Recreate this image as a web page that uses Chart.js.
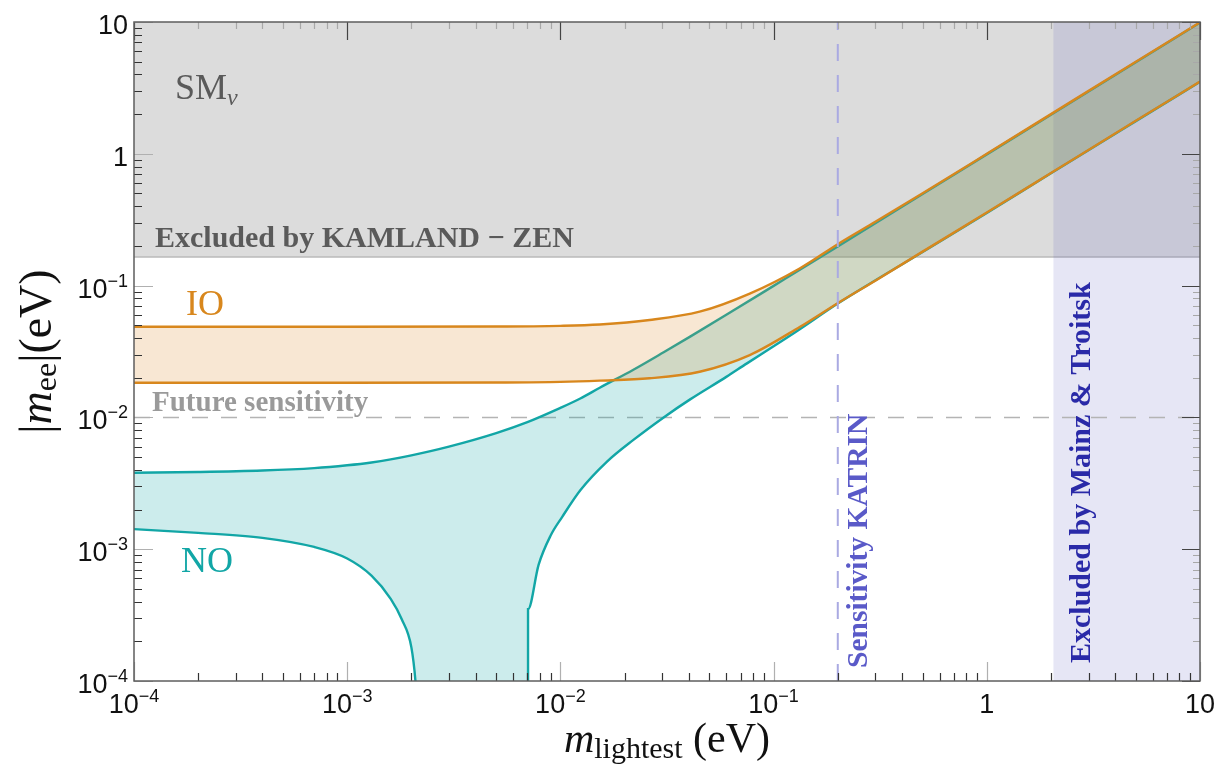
<!DOCTYPE html>
<html>
<head>
<meta charset="utf-8">
<title>|m_ee| versus lightest neutrino mass</title>
<script src="https://cdn.jsdelivr.net/npm/chart.js@4.4.1/dist/chart.umd.min.js"></script>
<style>
  body { margin: 0; background: #fff; }
  canvas { display: block; }
</style>
</head>
<body>
<canvas id="meeChart" width="1220" height="776"></canvas>
<script>
// Normal ordering band, upper edge: lightest mass (eV) and |m_ee| (eV)
const noUpperMass = [1e-4, 2e-4, 4e-4, 7e-4, 1e-3, 1.3e-3, 1.6e-3, 2e-3, 3e-3, 5e-3, 7e-3, 1e-2, 1.24e-2,
  1.53e-2, 2.2e-2, 3.05e-2, 4.06e-2, 6e-2, 0.1, 0.2, 0.5, 1, 2, 5, 10];
const noUpper = [3.80e-3, 3.85e-3, 3.95e-3, 4.12e-3, 4.33e-3, 4.55e-3, 4.8e-3, 5.15e-3, 6.0e-3, 7.6e-3, 9.2e-3,
  1.18e-2, 1.39e-2, 1.68e-2, 2.3e-2, 3.12e-2, 4.1e-2, 6.0e-2, 0.0995, 0.198, 0.495, 0.99, 1.98, 4.95, 9.9];

// Normal ordering band, lower edge (values < 1e-4 sit below the axis where it cancels out)
const noLowerMass = [1e-4, 2e-4, 4e-4, 7e-4, 1e-3, 1.3e-3, 1.6e-3, 1.8e-3, 2.0e-3, 2.09e-3, 2.12e-3, 3e-3, 5e-3,
  7.05e-3, 7.05e-3, 7.9e-3, 9e-3, 1.02e-2, 1.24e-2, 1.65e-2, 2.2e-2, 3.05e-2, 4.06e-2, 6e-2, 7.5e-2, 0.1, 0.13,
  0.2, 0.5, 1, 2, 5, 10];
const noLower = [1.42e-3, 1.33e-3, 1.22e-3, 1.04e-3, 8.5e-4, 6.3e-4, 4.2e-4, 2.95e-4, 1.8e-4, 1.0e-4, 7e-5,
  7e-5, 7e-5, 7e-5, 3.5e-4, 7.6e-4, 1.27e-3, 1.76e-3, 2.8e-3, 4.6e-3, 6.75e-3, 1.0e-2, 1.37e-2, 2.03e-2,
  2.57e-2, 3.46e-2, 4.56e-2, 7.3e-2, 0.18, 0.356, 0.712, 1.77, 3.52];

// Inverted ordering band
const ioMass = [1e-4, 1e-3, 5e-3, 1e-2, 1.53e-2, 2.62e-2, 4.5e-2, 7.73e-2, 0.1325, 0.205, 0.3, 0.5, 1, 2, 5, 10];
const ioUpper = [0.0487, 0.0487, 0.0489, 0.0495, 0.0507, 0.0548, 0.0634, 0.087, 0.135, 0.2116, 0.305, 0.502,
  1.0, 2.0, 5.0, 9.95];
const ioLower = [0.0183, 0.0183, 0.0184, 0.0186, 0.019, 0.0198, 0.0222, 0.0297, 0.0485, 0.0755, 0.109, 0.181,
  0.358, 0.714, 1.78, 3.53];

// Experimental limits (eV)
const kamlandLimit = 0.165;
const futureSensitivity = 0.01;
const katrinSensitivity = 0.2;
const mainzTroitskLimit = 2.05;

// Axis range and labelled powers of ten
const axisMin = 1e-4;
const axisMax = 10;
const xTickPowers = [-4, -3, -2, -1, 0, 1];
const yTickPowers = [-4, -3, -2, -1, 0, 1];

const teal = "#12a6a6";
const orange = "#d8871d";
const serif = "'Liberation Serif', 'Times New Roman', serif";
const sans = "'Liberation Sans', Arial, sans-serif";

const toPoints = (xs, ys) => xs.map((x, i) => ({ x: x, y: ys[i] }));

// all 1..9 x 10^n values inside the axis range, powers of ten flagged as major
function logTickValues() {
  const out = [];
  for (let p = -4; p <= 0; p++) {
    for (let k = 1; k <= 9; k++) out.push({ v: k * Math.pow(10, p), major: k === 1 });
  }
  out.push({ v: 10, major: true });
  return out;
}

// "10" with a raised exponent, as Mathematica prints it
function drawPower(ctx, p, x, baseline, align) {
  const base = p === 0 ? "1" : "10";
  const sup = p === 0 || p === 1 ? "" : "\u2212" + Math.abs(p);
  ctx.font = "27px " + sans;
  const wb = ctx.measureText(base).width;
  ctx.font = "18px " + sans;
  const ws = sup ? ctx.measureText(sup).width : 0;
  const left = align === "right" ? x - wb - ws : x - (wb + ws) / 2;
  ctx.font = "27px " + sans;
  ctx.fillText(base, left, baseline);
  if (sup) {
    ctx.font = "18px " + sans;
    ctx.fillText(sup, left + wb, baseline - 11);
  }
}

// text made of runs with their own font and baseline shift
function drawRuns(ctx, runs, x, baseline, align) {
  let total = 0;
  runs.forEach((r) => { ctx.font = r.font; r.w = ctx.measureText(r.text).width; total += r.w; });
  let cx = align === "center" ? x - total / 2 : x;
  runs.forEach((r) => {
    ctx.font = r.font;
    ctx.fillText(r.text, cx, baseline + (r.dy || 0));
    cx += r.w;
  });
}

const framePlugin = {
  id: "framePlugin",
  afterDraw(chart) {
    const { ctx, chartArea: a, scales } = chart;
    const xs = scales.x;
    const ys = scales.y;
    ctx.save();
    ctx.textAlign = "left";
    ctx.textBaseline = "alphabetic";

    // inward ticks on all four sides
    ctx.lineWidth = 1.2;
    logTickValues().forEach((t) => {
      const px = Math.round(xs.getPixelForValue(t.v)) + 0.5;
      const py = Math.round(ys.getPixelForValue(t.v)) + 0.5;
      const longLen = 19;
      const shortLen = 8;
      // left and bottom: light long majors, dark short minors
      ctx.strokeStyle = t.major ? "#b0b0b0" : "#333";
      const lb = t.major ? longLen : shortLen;
      ctx.beginPath();
      ctx.moveTo(a.left, py); ctx.lineTo(a.left + lb, py);
      ctx.moveTo(px, a.bottom); ctx.lineTo(px, a.bottom - lb);
      ctx.stroke();
      // top and right: dark long majors, light short minors
      ctx.strokeStyle = t.major ? "#444" : "#a8a8a8";
      const lt = t.major ? longLen - 1 : shortLen - 1;
      ctx.beginPath();
      ctx.moveTo(a.right, py); ctx.lineTo(a.right - lt, py);
      ctx.moveTo(px, a.top); ctx.lineTo(px, a.top + lt);
      ctx.stroke();
    });

    // frame
    ctx.strokeStyle = "#5e5e5e";
    ctx.lineWidth = 1.5;
    ctx.strokeRect(a.left, a.top, a.right - a.left, a.bottom - a.top);

    // tick labels
    ctx.fillStyle = "#111";
    yTickPowers.forEach((p) => {
      const py = ys.getPixelForValue(Math.pow(10, p));
      drawPower(ctx, p, a.left - 6, py + 12, "right");
    });
    xTickPowers.forEach((p) => {
      const px = xs.getPixelForValue(Math.pow(10, p));
      drawPower(ctx, p, px, a.bottom + 32, "center");
    });

    // axis titles
    ctx.fillStyle = "#111";
    drawRuns(ctx, [
      { text: "m", font: "italic 42px " + serif },
      { text: "lightest", font: "30px " + serif, dy: 6 },
      { text: " (eV)", font: "42px " + serif },
    ], (a.left + a.right) / 2, 752, "center");

    ctx.save();
    ctx.translate(51, (a.top + a.bottom) / 2);
    ctx.rotate(-Math.PI / 2);
    drawRuns(ctx, [
      { text: "|", font: "46px " + serif },
      { text: "m", font: "italic 46px " + serif },
      { text: "ee", font: "32px " + serif, dy: 5 },
      { text: "|(eV)", font: "46px " + serif },
    ], 0, 0, "center");
    ctx.restore();

    // region annotations
    ctx.fillStyle = "#5a5a5a";
    drawRuns(ctx, [
      { text: "SM", font: "36px " + serif },
      { text: "\u03bd", font: "italic 24px " + serif, dy: 6 },
    ], 175, 99, "left");
    ctx.font = "bold 30px " + serif;
    ctx.fillText("Excluded by KAMLAND \u2212 ZEN", 155, 247);

    ctx.fillStyle = orange;
    ctx.font = "36px " + serif;
    ctx.fillText("IO", 186, 315);
    ctx.fillStyle = teal;
    ctx.fillText("NO", 181, 572);

    ctx.fillStyle = "#9a9a9a";
    ctx.font = "bold 29px " + serif;
    ctx.fillText("Future sensitivity", 152, 411);

    ctx.font = "bold 29.5px " + serif;
    ctx.save();
    ctx.translate(867, 668);
    ctx.rotate(-Math.PI / 2);
    ctx.fillStyle = "#5a5ac8";
    ctx.fillText("Sensitivity KATRIN", 0, 0);
    ctx.restore();

    ctx.font = "bold 30px " + serif;
    ctx.save();
    ctx.translate(1090, 663);
    ctx.rotate(-Math.PI / 2);
    ctx.fillStyle = "#2a2aa8";
    ctx.fillText("Excluded by Mainz & Troitsk", 0, 0);
    ctx.restore();

    ctx.restore();
  },
};

const curve = { borderWidth: 2.4, cubicInterpolationMode: "monotone" };

const datasets = [
  {
    // 0: excluded by KamLAND-Zen, filled up to the top
    data: [{ x: axisMin, y: kamlandLimit }, { x: axisMax, y: kamlandLimit }],
    borderColor: "#bababa", borderWidth: 1.5,
    backgroundColor: "#dcdcdc", fill: "end", order: 10,
  },
  {
    // 1: excluded by Mainz & Troitsk, filled down to the bottom
    data: [{ x: mainzTroitskLimit, y: axisMax }, { x: axisMax, y: axisMax }],
    borderColor: "transparent", borderWidth: 0,
    backgroundColor: "rgba(80, 80, 185, 0.143)", fill: "start", order: 9,
  },
  {
    // 2: future sensitivity
    data: [{ x: axisMin, y: futureSensitivity }, { x: axisMax, y: futureSensitivity }],
    borderColor: "#b4b4b4", borderWidth: 1.5, borderDash: [16, 13], fill: false, order: 8,
  },
  Object.assign({
    // 3: NO upper edge
    data: toPoints(noUpperMass, noUpper),
    borderColor: teal, fill: false, order: 4,
  }, curve),
  Object.assign({
    // 4: NO lower edge, band filled to the upper edge
    data: toPoints(noLowerMass, noLower),
    borderColor: teal, fill: 3,
    backgroundColor: "rgba(0, 160, 160, 0.2)", order: 4,
  }, curve),
  Object.assign({
    // 5: IO upper edge
    data: toPoints(ioMass, ioUpper),
    borderColor: orange, fill: false, order: 3,
  }, curve),
  Object.assign({
    // 6: IO lower edge
    data: toPoints(ioMass, ioLower),
    borderColor: orange, fill: 5,
    backgroundColor: "rgba(221, 136, 34, 0.2)", order: 3,
  }, curve),
  {
    // 7: KATRIN sensitivity
    data: [{ x: katrinSensitivity, y: axisMin }, { x: katrinSensitivity, y: axisMax }],
    borderColor: "#aaaae2", borderWidth: 2, borderDash: [17, 14], fill: false, order: 1,
  },
];

const hiddenAxis = {
  type: "logarithmic",
  min: axisMin,
  max: axisMax,
  ticks: { display: false },
  grid: { display: false },
  border: { display: false },
  title: { display: false },
};

new Chart(document.getElementById("meeChart"), {
  type: "line",
  data: { datasets: datasets },
  options: {
    responsive: false,
    animation: false,
    layout: { padding: { top: 22, right: 20, left: 0, bottom: 0 } },
    elements: { point: { radius: 0, hoverRadius: 0 } },
    plugins: { legend: { display: false }, tooltip: { enabled: false } },
    events: [],
    scales: {
      x: Object.assign({}, hiddenAxis, { afterFit: (s) => { s.height = 95; } }),
      y: Object.assign({}, hiddenAxis, { afterFit: (s) => { s.width = 134; } }),
    },
  },
  plugins: [framePlugin],
});
</script>
</body>
</html>
